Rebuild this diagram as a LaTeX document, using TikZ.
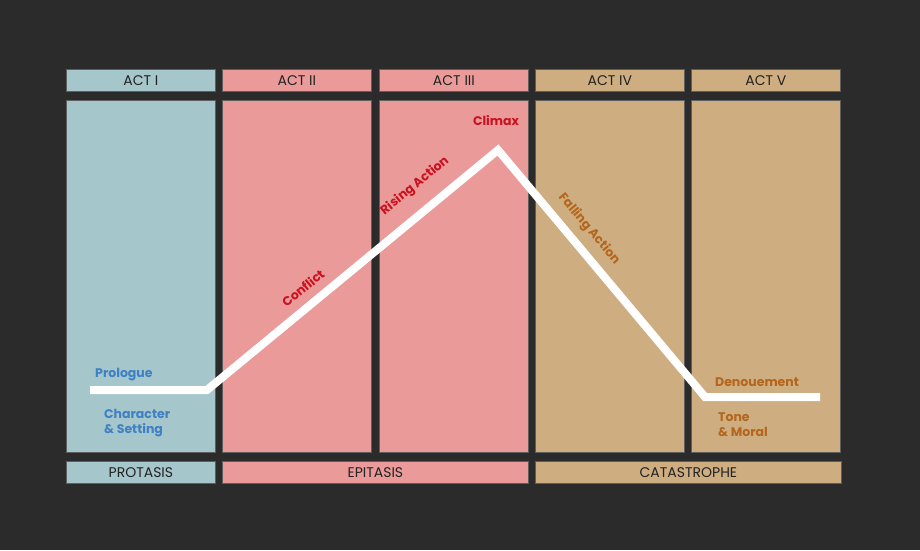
\documentclass[tikz,border=0pt]{standalone}
\usepackage{fontspec}
\setmainfont{Poppins}
\usetikzlibrary{positioning}
\definecolor{bgdark}{HTML}{2B2B2B}
\definecolor{edgegray}{HTML}{5E5E5E}
\definecolor{actblue}{HTML}{A5C6CB}
\definecolor{actpink}{HTML}{EB9A9A}
\definecolor{acttan}{HTML}{CEAD80}
\definecolor{txtdark}{HTML}{222222}
\definecolor{lblblue}{HTML}{3F80C4}
\definecolor{lblred}{HTML}{C8121F}
\definecolor{lblbrown}{HTML}{B3661C}

\tikzset{
  actbox/.style={draw=edgegray, line width=0.8pt, anchor=north west, inner sep=0pt,
    minimum width=149pt, minimum height=22pt, text=txtdark,
    font=\fontsize{14}{16}\selectfont},
  bodybox/.style={actbox, minimum height=352pt},
  lbl/.style={font=\bfseries\fontsize{12.5}{15}\selectfont, inner sep=0pt},
}

\begin{document}
\begin{tikzpicture}[x=1pt,y=-1pt]
\fill[bgdark] (0,0) rectangle (920,550);
\useasboundingbox (0,0) rectangle (920,550);
% act headers
\node[actbox, fill=actblue] (hI) at (66,69) {ACT I};
\node[actbox, fill=actpink] (hII) at (222,69) {ACT II};
\node[actbox, fill=actpink] (hIII) at (379,69) {ACT III};
\node[actbox, fill=acttan] (hIV) at (535,69) {ACT IV};
\node[actbox, fill=acttan] (hV) at (691,69) {ACT V};
% act bodies
\node[bodybox, fill=actblue] (bI) at (66,100) {};
\node[bodybox, fill=actpink] (bII) at (222,100) {};
\node[bodybox, fill=actpink] (bIII) at (379,100) {};
\node[bodybox, fill=acttan] (bIV) at (535,100) {};
\node[bodybox, fill=acttan] (bV) at (691,100) {};
% parts
\node[actbox, fill=actblue] (protasis) at (66,461) {PROTASIS};
\node[actbox, fill=actpink, minimum width=306pt] (epitasis) at (222,461) {EPITASIS};
\node[actbox, fill=acttan, minimum width=306pt] (catastrophe) at (535,461) {CATASTROPHE};
% plot line
\coordinate (start) at (90,390);
\coordinate (turn) at (207,390);
\coordinate (peak) at (498,150);
\coordinate (low) at (705,397);
\coordinate (end) at (820,397);
\draw[white, line width=8pt, line join=miter] (start) -- (turn) -- (peak) -- (low) -- (end);
% labels
\node[lbl, text=lblblue, anchor=west] (prologue) at (95,375) {Prologue};
\node[lbl, text=lblblue, anchor=west, align=left] (setting) at (104,423) {Character\\\& Setting};
\node[lbl, text=lblred, rotate=39.5] (conflict) at (303,288) {Conflict};
\node[lbl, text=lblred, rotate=39.5] (rising) at (415,186) {Rising Action};
\node[lbl, text=lblred] (climax) at (496,121) {Climax};
\node[lbl, text=lblbrown, rotate=-50] (falling) at (589,229) {Falling Action};
\node[lbl, text=lblbrown, anchor=west] (denouement) at (715,382) {Denouement};
\node[lbl, text=lblbrown, anchor=west, align=left] (moral) at (718,425) {Tone\\\& Moral};
\end{tikzpicture}
\end{document}
